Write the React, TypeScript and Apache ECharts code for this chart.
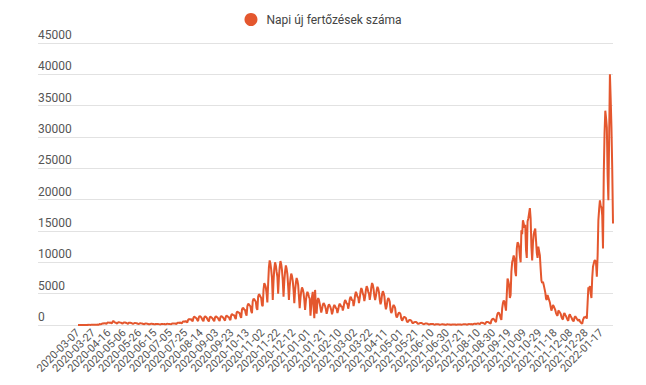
import React, { useEffect, useRef } from "react";
import * as echarts from "echarts";

const seriesName = "Napi új fertőzések száma";
const lineColor = "#e4572e";
const startDate = "2020-03-07";
const skippedDates = ["2021-07-04"];
const yTicks = [0, 5000, 10000, 15000, 20000, 25000, 30000, 35000, 40000, 45000];

// daily values, one row per week (Sat..Fri), 2020-03-07 ..
const casesFirstWaves = [
  2, 3, 2, 3, 4, 6, 8,
  10, 8, 6, 12, 14, 20, 18,
  24, 20, 18, 30, 35, 40, 38,
  45, 40, 35, 50, 60, 55, 50,
  150, 120, 110, 200, 240, 260, 250,
  300, 230, 200, 340, 400, 380, 350,
  420, 300, 260, 550, 650, 480, 400,
  380, 280, 240, 400, 450, 420, 380,
  350, 260, 220, 380, 420, 400, 360,
  320, 240, 200, 350, 380, 350, 320,
  280, 210, 180, 300, 330, 300, 280,
  240, 180, 150, 250, 280, 260, 240,
  200, 150, 130, 210, 230, 220, 200,
  170, 130, 110, 180, 200, 190, 170,
  150, 110, 100, 160, 170, 160, 150,
  140, 100, 90, 150, 160, 150, 140,
  150, 110, 100, 170, 190, 180, 170,
  180, 140, 120, 220, 250, 240, 220,
  260, 200, 170, 320, 370, 350, 330,
  400, 300, 250, 500, 580, 560, 530,
  650, 480, 400, 800, 950, 900, 850,
  950, 700, 580, 1150, 1350, 1250, 1150,
  1050, 780, 620, 1250, 1450, 1350, 1250,
  1000, 750, 600, 1200, 1400, 1300, 1200,
  950, 720, 560, 1150, 1350, 1250, 1150,
  1000, 760, 600, 1200, 1400, 1300, 1200,
  1050, 800, 650, 1250, 1450, 1350, 1250,
  1100, 850, 700, 1300, 1500, 1400, 1300,
  1250, 950, 780, 1550, 1750, 1650, 1550,
  1550, 1150, 950, 1950, 2150, 2050, 1950,
  1900, 1400, 1150, 2450, 2750, 2650, 2450,
  2400, 1800, 1500, 3000, 3400, 3300, 3100,
  3000, 2200, 1900, 3800, 4200, 4100, 3900,
  3700, 2700, 2400, 4500, 4900, 4800, 4500,
  4300, 3200, 3000, 5600, 6700, 6400, 6000,
  5000, 3600, 6500, 9200, 10300, 9800, 8800,
  7500, 4000, 7000, 9000, 10000, 9500, 8500,
  7700, 5000, 7600, 9200, 10200, 9700, 8700,
  7100, 4500, 7000, 8500, 9500, 9000, 8100,
  6200, 4000, 6100, 7400, 8200, 7800, 7000,
  5600, 3500, 5500, 6700, 7500, 7100, 6400,
  4500, 2700, 4300, 5400, 6000, 5700, 5100,
];

const casesThirdWave = [
  4000, 2400, 3800, 4800, 5300, 5000, 4500,
  4200, 1500, 3000, 4500, 5300, 3000, 1100,
  5600, 3000, 1800, 3800, 4300, 4000, 3400,
  2700, 2000, 2500, 3200, 3500, 3300, 3000,
  2500, 1800, 2300, 3000, 3300, 3100, 2800,
  2400, 1700, 2200, 2900, 3200, 3000, 2700,
  2600, 1900, 2400, 3100, 3400, 3200, 2900,
  3000, 2300, 2800, 3600, 4000, 3800, 3400,
  3400, 2600, 3200, 4100, 4500, 4300, 3900,
  4000, 3000, 3700, 4800, 5300, 5000, 4500,
  4400, 3500, 4300, 5300, 5900, 5600, 5000,
  4700, 3800, 4500, 5600, 6200, 5900, 5300,
  5000, 4000, 4800, 6000, 6700, 6400, 5700,
  4600, 4000, 4600, 5500, 6100, 5800, 5200,
  4000, 3300, 3800, 4900, 5400, 5100, 4600,
  3200, 2500, 3000, 3900, 4300, 4100, 3700,
  2400, 1900, 2200, 2900, 3200, 3000, 2700,
  1600, 1200, 1400, 1800, 2000, 1900, 1700,
  1000, 700, 900, 1200, 1300, 1200, 1100,
  650, 450, 550, 750, 800, 750, 700,
  400, 280, 350, 460, 500, 480, 430,
  260, 180, 220, 300, 330, 310, 280,
  190, 120, 160, 230, 250, 230, 210,
  140, 80, 110, 160, 180, 170, 150,
  110, 50, 80, 120, 140, 130, 110,
  90, 40, 60, 100, 120, 110, 90,
  80, 30, 50, 90, 110, 100, 80,
  70, 30, 50, 80, 100, 90, 80,
  70, 30, 50, 80, 100, 90, 80,
  80, 40, 60, 100, 120, 110, 100,
  100, 50, 70, 130, 150, 140, 120,
  150, 80, 110, 180, 210, 200, 170,
];

const casesFourthWave = [
  200, 250, 250, 180, 130, 300, 380, 360, 330, 280,
  200, 150, 420, 480, 500, 450, 380, 280, 200, 700,
  900, 1000, 950, 800, 600, 450, 1300, 1800, 2000, 1900,
  1600, 1100, 800, 2600, 3500, 3900, 3700, 3000, 2300, 4800,
  7400, 7000, 6400, 4300, 4800, 8500, 10000, 10500, 11100, 10600,
  8500, 7800, 12200, 13200, 13000, 12500, 11000, 10000, 15100, 14500,
  16700, 16200, 15500, 16000, 12000, 10700, 16500, 17000, 17800, 18650,
  17000, 12500, 10300, 13000, 14500, 15000, 15400, 13500, 11500, 10700,
  12500, 11800, 11100, 9000, 7100, 6700, 6900, 6400, 5800, 5200,
  4200, 4000, 4800, 4400, 4000, 3600, 2900, 2300, 2700, 3200,
  3000, 2700, 2400, 1900, 1600, 1500, 2300, 2200, 2000, 1800,
  1300, 1000, 900, 1700, 1900, 1600, 1400, 1100, 800, 700,
  1500, 1700, 1400, 1200, 900, 700, 600, 1200, 1400, 1200,
  1000, 800, 700, 900, 600, 400, 300, 200, 800, 1100,
];

const casesOmicron = [
  1300, 1200, 1400, 1000, 3500, 6000, 5800, 6200, 5000, 4300,
  7500, 9300, 9800, 10300, 10300, 9800, 7700, 11000, 16700, 18500,
  19900, 19000, 18800, 17500, 12200, 24000, 30500, 34200, 33000, 31500,
  24000, 19900, 30000, 40000, 36000, 31500, 25000, 16200,
];

const cases = [...casesFirstWaves, ...casesThirdWave, ...casesFourthWave, ...casesOmicron];

function buildDates(n: number): string[] {
  const out: string[] = [];
  const [y, m, d] = startDate.split("-").map(Number);
  let t = Date.UTC(y, m - 1, d);
  while (out.length < n) {
    const s = new Date(t).toISOString().slice(0, 10);
    if (!skippedDates.includes(s)) out.push(s);
    t += 86400000;
  }
  return out;
}

const dates = buildDates(cases.length);

export default function App() {
  const ref = useRef<HTMLDivElement>(null);
  useEffect(() => {
    if (!ref.current) return;
    const chart = echarts.init(ref.current, undefined, { renderer: "svg" });
    chart.setOption({
      animation: false,
      backgroundColor: "#ffffff",
      textStyle: { fontFamily: "Roboto" },
      legend: {
        top: 8,
        left: "center",
        icon: "circle",
        itemWidth: 13,
        itemHeight: 13,
        itemGap: 6,
        textStyle: { fontSize: 12, color: "#444", fontFamily: "Roboto", padding: [0, 0, 0, 4] },
        data: [seriesName],
      },
      grid: [
        { left: 38, right: 33, top: 43, bottom: 60 },
        { left: 78, right: 33, top: 43, bottom: 60 },
      ],
      xAxis: [
        { gridIndex: 0, type: "value", show: false, min: 0, max: 1 },
        {
          gridIndex: 1,
          type: "category",
          data: dates,
          boundaryGap: false,
          axisLine: { show: false },
          axisTick: { show: false },
          splitLine: { show: false },
          axisLabel: {
            interval: 19,
            rotate: 45,
            fontSize: 11,
            color: "#555",
            margin: 6,
            fontFamily: "Roboto",
          },
        },
      ],
      yAxis: [
        {
          gridIndex: 0,
          type: "value",
          min: yTicks[0],
          max: yTicks[yTicks.length - 1],
          interval: yTicks[1] - yTicks[0],
          axisLine: { show: false },
          axisTick: { show: false },
          splitLine: { show: true, lineStyle: { color: "#e2e2e2", width: 1 } },
          axisLabel: {
            inside: true,
            margin: 0,
            verticalAlign: "bottom",
            padding: [0, 0, 2, 0],
            fontSize: 12,
            color: "#555",
            fontFamily: "Roboto",
            formatter: (v: number) => String(v),
          },
        },
        {
          gridIndex: 1,
          type: "value",
          min: yTicks[0],
          max: yTicks[yTicks.length - 1],
          show: false,
          splitLine: { show: false },
        },
      ],
      series: [
        {
          name: seriesName,
          type: "line",
          xAxisIndex: 1,
          yAxisIndex: 1,
          data: cases,
          showSymbol: false,
          symbol: "circle",
          lineStyle: { width: 2, color: lineColor },
          itemStyle: { color: lineColor },
        },
      ],
    });
    return () => chart.dispose();
  }, []);
  return (
    <div
      ref={ref}
      style={{ position: "fixed", left: 0, top: 0, width: 646, height: 385, background: "#fff" }}
    />
  );
}
